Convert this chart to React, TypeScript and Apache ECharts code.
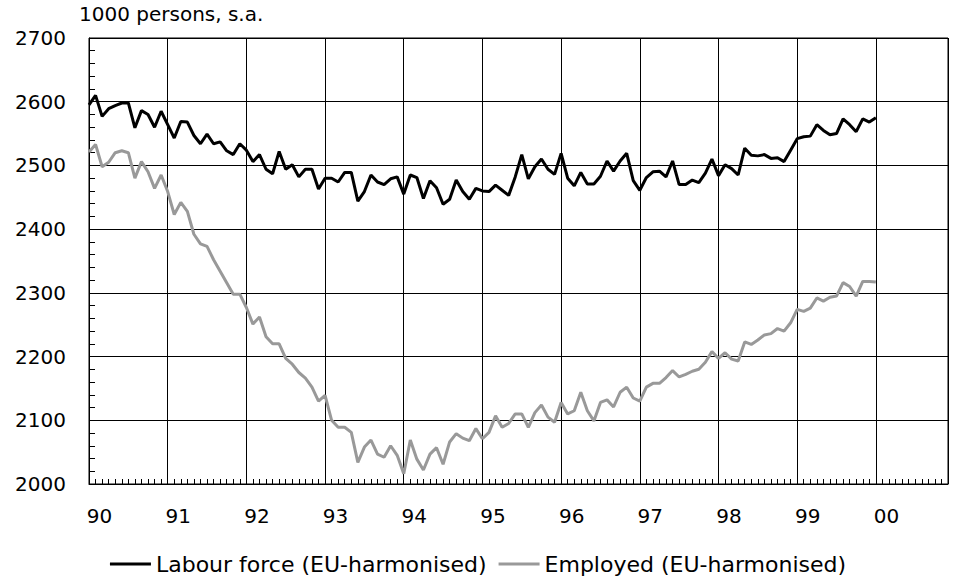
import React, { useEffect, useRef } from "react";
import * as echarts from "echarts";

// Monthly data, Jan 1990 .. Jan 2000 (index = months since Jan 1990)
const labourForce: number[] = [
  2595, 2610, 2577, 2589, 2594, 2598, 2598, 2559, 2586, 2580, 2560, 2585,
  2564, 2543, 2569, 2568, 2547, 2534, 2549, 2534, 2537, 2523, 2517, 2534,
  2524, 2506, 2517, 2494, 2487, 2522, 2494, 2501, 2482, 2494, 2494, 2463,
  2480, 2480, 2474, 2489, 2489, 2444, 2459, 2485, 2474, 2470, 2479, 2482,
  2455, 2485, 2481, 2448, 2476, 2465, 2439, 2447, 2477, 2459, 2447, 2464,
  2460, 2459, 2469, 2461, 2453, 2482, 2517, 2479, 2498, 2510, 2494, 2486,
  2519, 2480, 2468, 2489, 2471, 2471, 2483, 2507, 2491, 2507, 2519, 2476,
  2461, 2481, 2490, 2491, 2482, 2507, 2470, 2470, 2477, 2473, 2488, 2510,
  2484, 2501, 2495, 2485, 2527, 2516, 2515, 2517, 2511, 2512, 2506, 2524,
  2542, 2545, 2546, 2564, 2555, 2548, 2550, 2573, 2564, 2553, 2573, 2568,
  2575,
];

const employed: number[] = [
  2521, 2533, 2498, 2505, 2520, 2523, 2520, 2480, 2506, 2490, 2464, 2485,
  2459, 2423, 2442, 2428, 2392, 2377, 2373, 2352, 2334, 2316, 2298, 2298,
  2277, 2251, 2262, 2231, 2220, 2220, 2197, 2188, 2175, 2166, 2152, 2130,
  2139, 2100, 2089, 2089, 2081, 2034, 2058, 2069, 2047, 2042, 2060, 2045,
  2016, 2069, 2039, 2022, 2047, 2057, 2031, 2066, 2079, 2072, 2068, 2087,
  2071, 2081, 2107, 2089, 2095, 2110, 2110, 2089, 2112, 2124, 2105, 2097,
  2128, 2110, 2115, 2144, 2115, 2099, 2128, 2132, 2121, 2144, 2152, 2135,
  2130, 2152, 2158, 2158, 2167, 2178, 2168, 2172, 2177, 2180, 2191, 2208,
  2197, 2206, 2196, 2193, 2223, 2219, 2226, 2234, 2236, 2244, 2240, 2253,
  2274, 2271, 2276, 2292, 2287, 2293, 2295, 2316, 2310, 2295, 2318, 2318,
  2317,
];

const yearLabels: string[] = ["90", "91", "92", "93", "94", "95", "96", "97", "98", "99", "00"];
const seriesNames: string[] = ["Labour force (EU-harmonised)", "Employed (EU-harmonised)"];
const unitLabel = "1000 persons, s.a.";
const monthsPerYear = 12;
const xMaxMonths = 131;
const yMin = 2000;
const yMax = 2700;
const yStep = 100;

const FONT = "'DejaVu Sans', sans-serif";

export default function App() {
  const ref = useRef<HTMLDivElement>(null);

  useEffect(() => {
    if (!ref.current) return;
    const chart = echarts.init(ref.current, null, { renderer: "svg" });
    const toPoints = (arr: number[]) => arr.map((v, i) => [i, v]);

    chart.setOption({
      animation: false,
      backgroundColor: "#ffffff",
      title: {
        text: unitLabel,
        left: 79,
        top: 4,
        padding: 0,
        textStyle: { fontFamily: FONT, fontSize: 20, fontWeight: "normal", color: "#000" },
      },
      legend: {
        data: seriesNames,
        left: "center",
        top: 548,
        icon: "rect",
        itemWidth: 41,
        itemHeight: 3,
        itemGap: 12,
        textStyle: { fontFamily: FONT, fontSize: 22, color: "#000" },
      },
      grid: {
        left: 89,
        right: 8,
        top: 38,
        bottom: 97,
        show: true,
        borderColor: "#000",
        borderWidth: 1,
        containLabel: false,
      },
      xAxis: {
        type: "value",
        min: 0,
        max: xMaxMonths,
        interval: monthsPerYear,
        axisLine: { show: true, lineStyle: { color: "#000", width: 1 } },
        axisTick: { show: true, inside: true, length: 5, lineStyle: { color: "#000" } },
        minorTick: { show: true, splitNumber: 12, length: 5, lineStyle: { color: "#000", width: 1 } },
        splitLine: { show: true, lineStyle: { color: "#000", width: 1 } },
        axisLabel: {
          showMaxLabel: false,
          margin: 22,
          padding: [0, 0, 0, 21],
          fontFamily: FONT,
          fontSize: 20,
          color: "#000",
          formatter: (v: number) => {
            const idx = Math.round(v / monthsPerYear);
            return v % monthsPerYear === 0 && idx < yearLabels.length ? yearLabels[idx] : "";
          },
        },
      },
      yAxis: {
        type: "value",
        min: yMin,
        max: yMax,
        interval: yStep,
        axisLine: { show: true, lineStyle: { color: "#000", width: 1 } },
        axisTick: { show: true, inside: true, length: 6, lineStyle: { color: "#000" } },
        minorTick: { show: true, splitNumber: 5, length: 6, lineStyle: { color: "#000", width: 1 } },
        splitLine: { show: true, lineStyle: { color: "#000", width: 1 } },
        axisLabel: {
          margin: 23,
          fontFamily: FONT,
          fontSize: 20,
          color: "#000",
          formatter: (v: number) => String(v),
        },
      },
      series: [
        {
          name: seriesNames[0],
          type: "line",
          data: toPoints(labourForce),
          symbol: "none",
          lineStyle: { color: "#000000", width: 3 },
          itemStyle: { color: "#000000" },
        },
        {
          name: seriesNames[1],
          type: "line",
          data: toPoints(employed),
          symbol: "none",
          lineStyle: { color: "#999999", width: 3 },
          itemStyle: { color: "#999999" },
        },
      ],
    });

    return () => chart.dispose();
  }, []);

  return (
    <div
      ref={ref}
      style={{ position: "fixed", left: 0, top: 0, width: 956, height: 581, background: "#fff" }}
    />
  );
}
